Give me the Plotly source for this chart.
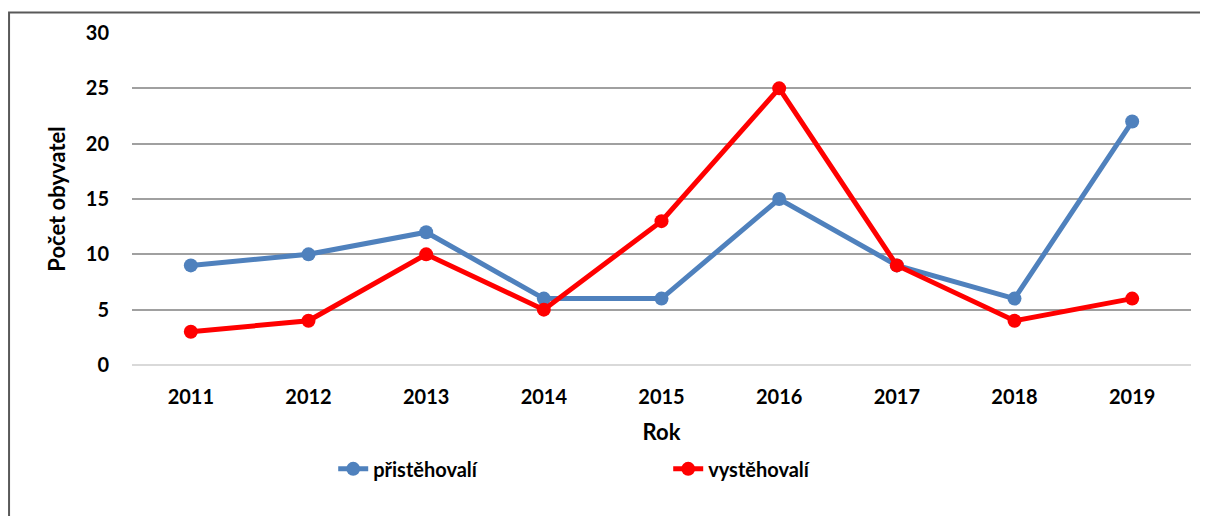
import plotly.graph_objects as go

roky = ["2011", "2012", "2013", "2014", "2015", "2016", "2017", "2018", "2019"]
pristehovali = [9, 10, 12, 6, 6, 15, 9, 6, 22]
vystehovali = [3, 4, 10, 5, 13, 25, 9, 4, 6]
y_ticks = [0, 5, 10, 15, 20, 25, 30]

font = "Lato, 'Open Sans', sans-serif"

fig = go.Figure()
fig.add_trace(go.Scatter(x=roky, y=pristehovali, name="přistěhovalí", mode="lines+markers",
                         line=dict(color="#4F81BD", width=5), marker=dict(size=14, color="#4F81BD")))
fig.add_trace(go.Scatter(x=roky, y=vystehovali, name="vystěhovalí", mode="lines+markers",
                         line=dict(color="#FF0000", width=5), marker=dict(size=14, color="#FF0000")))

fig.update_layout(
    width=1208, height=516,
    margin=dict(l=124, r=25, t=19, b=159),
    paper_bgcolor="white", plot_bgcolor="white",
    font=dict(family=font, size=20, color="black"),
    showlegend=True,
    legend=dict(orientation="h", x=0.19, y=-0.254, xanchor="left", yanchor="top",
                entrywidth=290, entrywidthmode="pixels",
                font=dict(family=font, size=20, color="black", weight="bold")),
    xaxis=dict(type="category", range=[-0.5, 8.5], showgrid=False, showline=False, ticks="",
               tickfont=dict(family=font, size=20, weight="bold"), ticklabelstandoff=18,
               title=dict(text="<b>Rok</b>", font=dict(family=font, size=22), standoff=17)),
    yaxis=dict(range=[0, 30], tickvals=y_ticks, showgrid=True, gridcolor="#A0A0A0", gridwidth=2,
               zeroline=True, zerolinecolor="#D9D9D9", zerolinewidth=2, showline=False, ticks="",
               tickfont=dict(family=font, size=20, weight="bold"), ticklabelstandoff=22,
               title=dict(text="<b>Počet obyvatel</b>", font=dict(family=font, size=22), standoff=14)),
)

# ramecek grafu
fig.add_shape(type="rect", xref="paper", yref="paper",
              x0=-0.1161, x1=1.03, y0=-0.5, y1=1.062,
              line=dict(color="#595959", width=2), fillcolor="rgba(0,0,0,0)", layer="below")

fig.write_html("out.html")
